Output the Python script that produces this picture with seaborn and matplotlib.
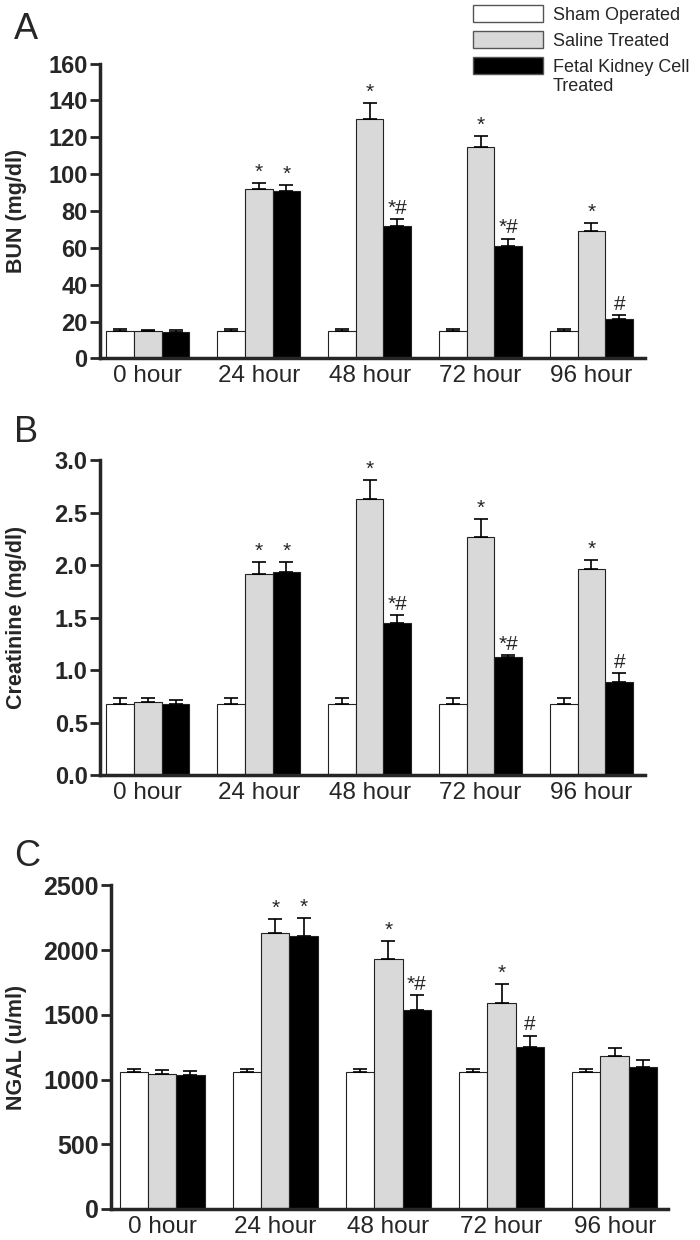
import numpy as np
import pandas as pd
import matplotlib
matplotlib.use("Agg")
import matplotlib.pyplot as plt
import seaborn as sns
from matplotlib.patches import Patch
from matplotlib.transforms import IdentityTransform

# data (mean, upper SEM)
times = ['0 hour', '24 hour', '48 hour', '72 hour', '96 hour']
groups = ['Sham Operated', 'Saline Treated', 'Fetal Kidney Cell\nTreated']

bun_sham = [15, 15, 15, 15, 15]
bun_saline = [15, 92, 130, 115, 69]
bun_fk = [14.5, 91, 72, 61, 21.5]
bun_sham_err = [1, 1, 1, 1, 1]
bun_saline_err = [0.5, 3, 8.5, 5.5, 4.5]
bun_fk_err = [1, 3, 3.5, 4, 2]

cre_sham = [0.68, 0.68, 0.68, 0.68, 0.68]
cre_saline = [0.70, 1.91, 2.63, 2.27, 1.96]
cre_fk = [0.68, 1.93, 1.45, 1.12, 0.89]
cre_sham_err = [0.05, 0.05, 0.05, 0.05, 0.05]
cre_saline_err = [0.03, 0.12, 0.18, 0.17, 0.09]
cre_fk_err = [0.03, 0.10, 0.07, 0.02, 0.08]

ngal_sham = [1055, 1055, 1055, 1055, 1055]
ngal_saline = [1045, 2130, 1935, 1595, 1185]
ngal_fk = [1035, 2110, 1535, 1255, 1100]
ngal_sham_err = [30, 30, 30, 30, 30]
ngal_saline_err = [30, 110, 135, 140, 60]
ngal_fk_err = [30, 140, 115, 85, 50]

# significance marks
bun_saline_sig = ['', '*', '*', '*', '*']
bun_fk_sig = ['', '*', '*#', '*#', '#']
cre_saline_sig = ['', '*', '*', '*', '*']
cre_fk_sig = ['', '*', '*#', '*#', '#']
ngal_saline_sig = ['', '*', '*', '*', '']
ngal_fk_sig = ['', '*', '*#', '#', '']

colors = ['white', '#d9d9d9', 'black']

sns.set_theme(style="ticks")
plt.rcParams['font.family'] = ['Liberation Sans', 'DejaVu Sans']


def panel(ax, vals, errs, sigs, ylabel, ymax, yticks, ticklabels, xlim, tfs, labx):
    df = pd.DataFrame({
        'time': times * 3,
        'group': [g for g in groups for _ in times],
        'value': vals[0] + vals[1] + vals[2],
    })
    sns.barplot(data=df, x='time', y='value', hue='group', palette=colors,
                edgecolor='#222222', linewidth=0.8, errorbar=None, width=0.75,
                legend=False, ax=ax)
    for cont, err, sig in zip(ax.containers, errs, sigs):
        xs = [b.get_x() + b.get_width() / 2 for b in cont]
        hs = [b.get_height() for b in cont]
        ax.errorbar(xs, hs, yerr=[np.zeros(len(err)), err], fmt='none',
                    ecolor='black', elinewidth=1.2, capsize=5, capthick=1.2,
                    zorder=1)
        if sig is None:
            continue
        for x, h, e, s in zip(xs, hs, err, sig):
            if s:
                ax.annotate(s, (x, h + e), xytext=(0, 1), textcoords='offset points',
                            ha='center', va='bottom', fontsize=15)
    ax.set_ylim(0, ymax)
    ax.set_xlim(*xlim)
    ax.set_yticks(yticks)
    ax.set_yticklabels(ticklabels, fontweight='bold', fontsize=tfs)
    ax.set_xlabel('')
    ax.set_ylabel(ylabel, fontweight='bold', fontsize=15.5)
    ax.yaxis.set_label_coords(labx, 0.5)
    ax.tick_params(axis='x', length=0, labelsize=17.5, pad=5)
    ax.tick_params(axis='y', length=7, width=2, pad=2)
    for side in ['top', 'right']:
        ax.spines[side].set_visible(False)
    for side in ['left', 'bottom']:
        ax.spines[side].set_linewidth(2.5)


fig = plt.figure(figsize=(7, 12.4), dpi=100)
axA = fig.add_axes([0.143, 0.7110, 0.778, 0.2377])
axB = fig.add_axes([0.143, 0.375, 0.778, 0.254])
axC = fig.add_axes([0.159, 0.025, 0.795, 0.261])

panel(axA, [bun_sham, bun_saline, bun_fk],
      [bun_sham_err, bun_saline_err, bun_fk_err],
      [None, bun_saline_sig, bun_fk_sig], 'BUN (mg/dl)', 160,
      [0, 20, 40, 60, 80, 100, 120, 140, 160],
      ['0', '20', '40', '60', '80', '100', '120', '140', '160'], (-0.43, 4.48), 17, -0.134)
panel(axB, [cre_sham, cre_saline, cre_fk],
      [cre_sham_err, cre_saline_err, cre_fk_err],
      [None, cre_saline_sig, cre_fk_sig], 'Creatinine (mg/dl)', 3.0,
      [0, 0.5, 1.0, 1.5, 2.0, 2.5, 3.0],
      ['0.0', '0.5', '1.0', '1.5', '2.0', '2.5', '3.0'], (-0.43, 4.48), 17, -0.134)
panel(axC, [ngal_sham, ngal_saline, ngal_fk],
      [ngal_sham_err, ngal_saline_err, ngal_fk_err],
      [None, ngal_saline_sig, ngal_fk_sig], 'NGAL (u/ml)', 2500,
      [0, 500, 1000, 1500, 2000, 2500],
      ['0', '500', '1000', '1500', '2000', '2500'], (-0.45, 4.47), 18, -0.152)

fig.text(0.02, 0.99, 'A', fontsize=26, va='top')
fig.text(0.02, 0.665, 'B', fontsize=26, va='top')
fig.text(0.02, 0.323, 'C', fontsize=26, va='top')

handles = [Patch(facecolor=c, edgecolor='#555555', linewidth=1, label=g.split('\n')[0])
           for c, g in zip(colors, groups)]
leg = fig.legend(handles=handles, loc='upper left', bbox_to_anchor=(0.675, 0.996),
                 frameon=False, fontsize=13, handlelength=3.9, handleheight=1.1,
                 handletextpad=0.55, labelspacing=0.4, borderpad=0, borderaxespad=0)

# second line of the last legend label sits under the first one
fig.canvas.draw()
bb = leg.get_texts()[2].get_window_extent()
fig.text(bb.x0, bb.y0 - 2, groups[2].split('\n')[1], fontsize=13, va='top', ha='left',
         transform=IdentityTransform())

fig.savefig('out.png', dpi=100)
